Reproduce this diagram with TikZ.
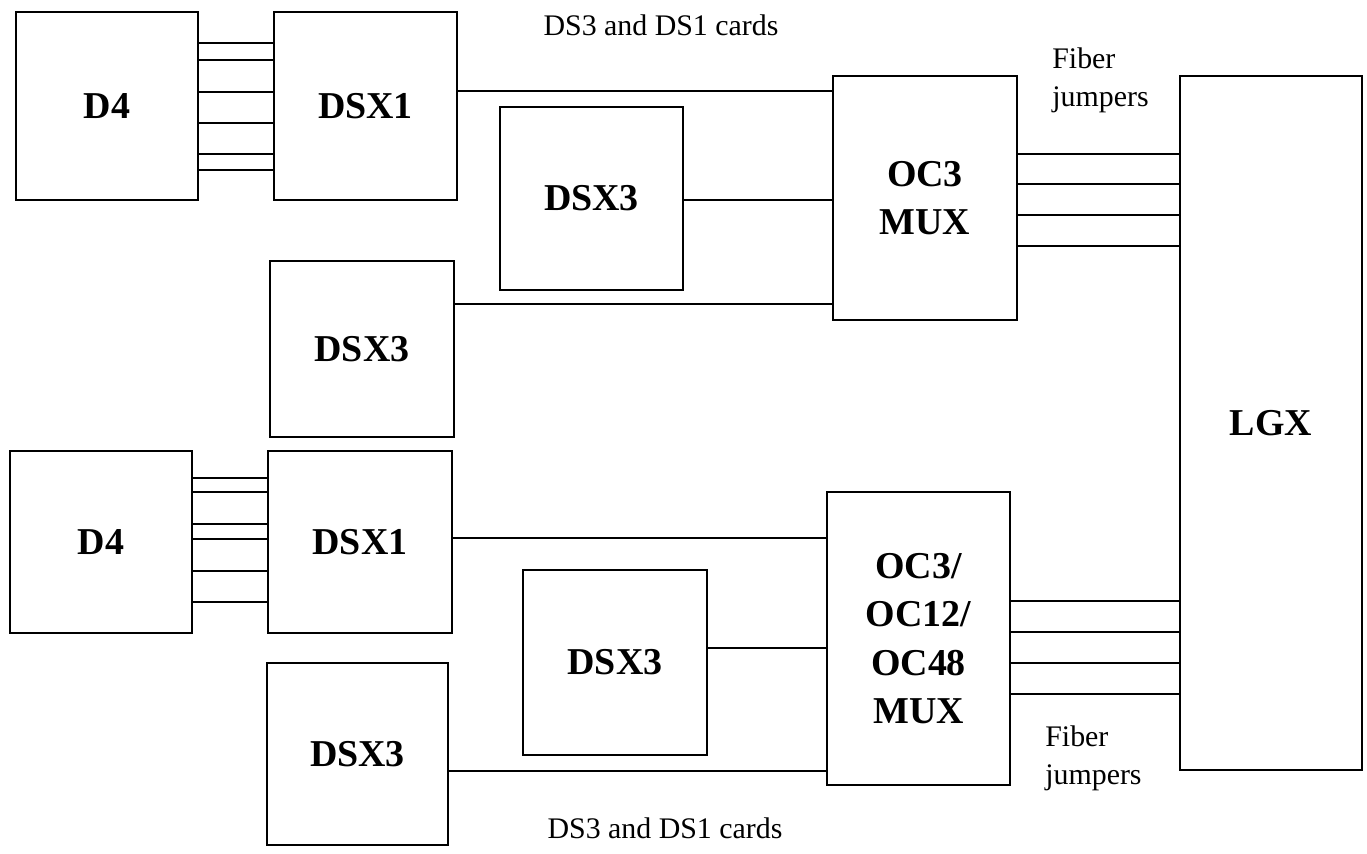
\documentclass[tikz,border=0pt]{standalone}
\usepackage{fontspec}
\setmainfont{Liberation Serif}
\usepackage{tikz}
\usetikzlibrary{positioning, calc}

\tikzset{
    unit/.style={draw, line width=1pt, inner sep=0pt, align=center,
        font=\fontsize{21.6}{27.5}\selectfont\bfseries},
    wire/.style={line width=1pt},
    note/.style={font=\fontsize{17}{21.6}\selectfont, align=left, inner sep=0pt}
}

\begin{document}
\begin{tikzpicture}
\useasboundingbox (0,0) rectangle (27.34,-17.06);

% Upper shelf
\node[unit, minimum width=3.64cm, minimum height=3.76cm] (d4top) at (2.14,-2.12) {D4};
\node[unit, minimum width=3.66cm, minimum height=3.76cm] (dsx1top) at (7.31,-2.12) {DSX1};
\node[unit, minimum width=3.66cm, minimum height=3.66cm] (dsx3mid) at (11.83,-3.97) {DSX3};
\node[unit, minimum width=3.68cm, minimum height=3.52cm] (dsx3left) at (7.24,-6.98) {DSX3};
\node[unit, minimum width=3.68cm, minimum height=4.88cm] (oc3) at (18.5,-3.96) {OC3\\MUX};

% Fiber frame
\node[unit, minimum width=3.64cm, minimum height=13.88cm] (lgx) at (25.42,-8.46) {LGX};

% Lower shelf
\node[unit, minimum width=3.64cm, minimum height=3.64cm] (d4bot) at (2.02,-10.84) {D4};
\node[unit, minimum width=3.68cm, minimum height=3.64cm] (dsx1bot) at (7.2,-10.84) {DSX1};
\node[unit, minimum width=3.68cm, minimum height=3.7cm] (dsx3low) at (12.3,-13.25) {DSX3};
\node[unit, minimum width=3.62cm, minimum height=3.64cm] (dsx3base) at (7.15,-15.08) {DSX3};
\node[unit, minimum width=3.66cm, minimum height=5.86cm] (ocmux) at (18.37,-12.77) {OC3/\\OC12/\\OC48\\MUX};

% D4 to DSX1 wiring
\foreach \y in {0.86,1.2,1.84,2.46,3.08,3.4}
    \draw[wire] (d4top.east |- 0,-\y) -- (dsx1top.west |- 0,-\y);
\foreach \y in {9.56,9.84,10.48,10.78,11.42,12.04}
    \draw[wire] (d4bot.east |- 0,-\y) -- (dsx1bot.west |- 0,-\y);

% Cards into the muxes
\draw[wire] (dsx1top.east |- 0,-1.82) -- (oc3.west |- 0,-1.82);
\draw[wire] (dsx3mid.east |- 0,-4.0) -- (oc3.west |- 0,-4.0);
\draw[wire] (dsx3left.east |- 0,-6.08) -- (oc3.west |- 0,-6.08);
\draw[wire] (dsx1bot.east |- 0,-10.76) -- (ocmux.west |- 0,-10.76);
\draw[wire] (dsx3low.east |- 0,-12.96) -- (ocmux.west |- 0,-12.96);
\draw[wire] (dsx3base.east |- 0,-15.42) -- (ocmux.west |- 0,-15.42);

% Fiber jumpers to LGX
\foreach \y in {3.08,3.68,4.3,4.92}
    \draw[wire] (oc3.east |- 0,-\y) -- (lgx.west |- 0,-\y);
\foreach \y in {12.02,12.64,13.26,13.88}
    \draw[wire] (ocmux.east |- 0,-\y) -- (lgx.west |- 0,-\y);

% Labels
\node[note] (cardstop) at (13.22,-0.5) {DS3 and DS1 cards};
\node[note] (cardsbot) at (13.3,-16.56) {DS3 and DS1 cards};
\node[note, anchor=west] (fibertop) at (21.04,-1.6) {Fiber\\jumpers};
\node[note, anchor=west] (fiberbot) at (20.9,-15.17) {Fiber\\jumpers};

\end{tikzpicture}
\end{document}
